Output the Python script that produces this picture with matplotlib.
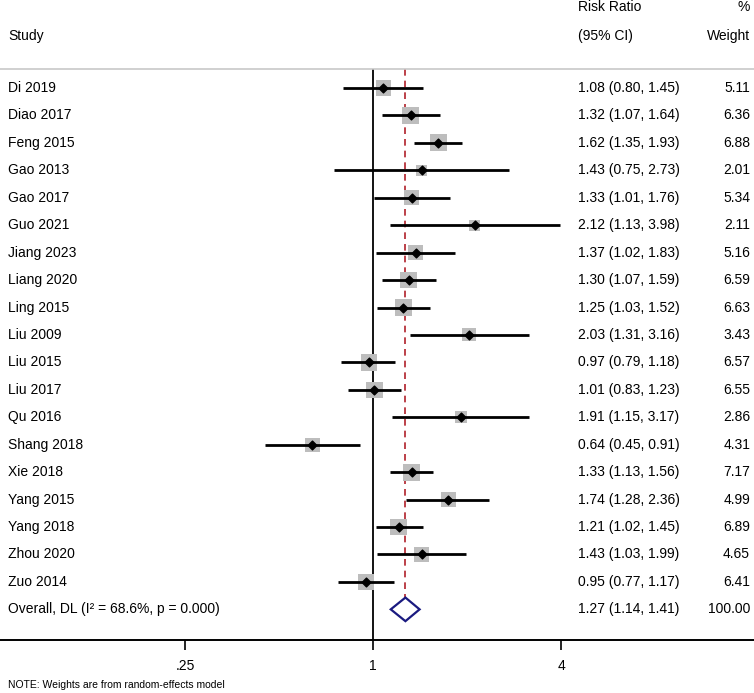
import numpy as np
import matplotlib.pyplot as plt
from matplotlib import transforms

plt.rcParams['font.family'] = ['Liberation Sans', 'DejaVu Sans']

studies = ["Di 2019", "Diao 2017", "Feng 2015", "Gao 2013", "Gao 2017", "Guo 2021",
           "Jiang 2023", "Liang 2020", "Ling 2015", "Liu 2009", "Liu 2015", "Liu 2017",
           "Qu 2016", "Shang 2018", "Xie 2018", "Yang 2015", "Yang 2018", "Zhou 2020",
           "Zuo 2014"]
rr = [1.08, 1.32, 1.62, 1.43, 1.33, 2.12, 1.37, 1.30, 1.25, 2.03, 0.97, 1.01,
      1.91, 0.64, 1.33, 1.74, 1.21, 1.43, 0.95]
lower = [0.80, 1.07, 1.35, 0.75, 1.01, 1.13, 1.02, 1.07, 1.03, 1.31, 0.79, 0.83,
         1.15, 0.45, 1.13, 1.28, 1.02, 1.03, 0.77]
upper = [1.45, 1.64, 1.93, 2.73, 1.76, 3.98, 1.83, 1.59, 1.52, 3.16, 1.18, 1.23,
         3.17, 0.91, 1.56, 2.36, 1.45, 1.99, 1.17]
weights = [5.11, 6.36, 6.88, 2.01, 5.34, 2.11, 5.16, 6.59, 6.63, 3.43, 6.57, 6.55,
           2.86, 4.31, 7.17, 4.99, 6.89, 4.65, 6.41]
overall_rr, overall_lo, overall_hi = 1.27, 1.14, 1.41
overall_label = "Overall, DL (I\u00b2 = 68.6%, p = 0.000)"
tick_values = [0.25, 1, 4]
tick_labels = [".25", "1", "4"]

W, H = 754, 693
fig = plt.figure(figsize=(W / 100, H / 100), dpi=100)
top_px, bot_px = 69, 640
ax = fig.add_axes([0, 1 - bot_px / H, 1, (bot_px - top_px) / H])

row0, step = 88, 27.44
ax.set_xscale('log', base=2)
x0_px, unit = 373, 94.0
ax.set_xlim(2 ** (-x0_px / unit), 2 ** ((W - x0_px) / unit))
ax.set_ylim((bot_px - row0) / step, (top_px - row0) / step)

ax.spines['left'].set_visible(False)
ax.spines['right'].set_visible(False)
ax.spines['top'].set_color('#c8c8c8')
ax.spines['top'].set_linewidth(1.2)
ax.spines['bottom'].set_linewidth(1.4)
ax.set_yticks([])
ax.set_xticks(tick_values)
ax.set_xticklabels(tick_labels)
ax.xaxis.set_minor_locator(plt.NullLocator())
ax.tick_params(axis='x', length=7, width=1.2, pad=7, labelsize=10)

n = len(studies)
rows = np.arange(n)
ov_row = n

# null line and overall dashed line
ax.plot([1, 1], [(top_px - row0) / step, (bot_px - row0) / step], color='black', lw=1.3)
ax.plot([overall_rr, overall_rr], [(top_px - row0) / step, ov_row + 0.43],
        color='#b0202a', lw=1.2, ls=(0, (4, 3)))

# squares sized by weight
side_px = 4 + 4.9 * np.sqrt(np.array(weights))
ax.scatter(rr, rows, marker='s', s=(side_px * 0.72) ** 2, color='#bdbdbd',
           edgecolors='none', zorder=2)
ax.hlines(rows, lower, upper, color='black', lw=2, zorder=3)
ax.scatter(rr, rows, marker='D', s=20, color='black', zorder=4)

# overall diamond
dh = 0.43
ax.fill([overall_lo, overall_rr, overall_hi, overall_rr, overall_lo],
        [ov_row, ov_row - dh, ov_row, ov_row + dh, ov_row],
        facecolor='white', edgecolor='#1a1a80', lw=1.6, zorder=3)

trans = transforms.blended_transform_factory(ax.transAxes, ax.transData)
fs = 10
x_label = 8 / W
x_ci = 578 / W
x_wt = 750 / W
for i in range(n):
    ax.text(x_label, i, studies[i], transform=trans, fontsize=fs, va='center', ha='left')
    ax.text(x_ci, i, f"{rr[i]:.2f} ({lower[i]:.2f}, {upper[i]:.2f})", transform=trans,
            fontsize=fs, va='center', ha='left')
    ax.text(x_wt, i, f"{weights[i]:.2f}", transform=trans, fontsize=fs, va='center', ha='right')
ax.text(x_label, ov_row, overall_label, transform=trans, fontsize=fs, va='center', ha='left')
ax.text(x_ci, ov_row, f"{overall_rr:.2f} ({overall_lo:.2f}, {overall_hi:.2f})", transform=trans,
        fontsize=fs, va='center', ha='left')
ax.text(x_wt, ov_row, "100.00", transform=trans, fontsize=fs, va='center', ha='right')

# headers
h1 = (7 - row0) / step
h2 = (36 - row0) / step
ax.text(x_label, h2, "Study", transform=trans, fontsize=fs, va='center', ha='left')
ax.text(x_ci, h1, "Risk Ratio", transform=trans, fontsize=fs, va='center', ha='left')
ax.text(x_ci, h2, "(95% CI)", transform=trans, fontsize=fs, va='center', ha='left')
ax.text(x_wt, h1, "%", transform=trans, fontsize=fs, va='center', ha='right')
ax.text(x_wt, h2, "Weight", transform=trans, fontsize=fs, va='center', ha='right')

fig.text(8 / W, 1 - 685 / H, "NOTE: Weights are from random-effects model",
         fontsize=7.5, va='center', ha='left')

fig.savefig('out.png', dpi=100)
